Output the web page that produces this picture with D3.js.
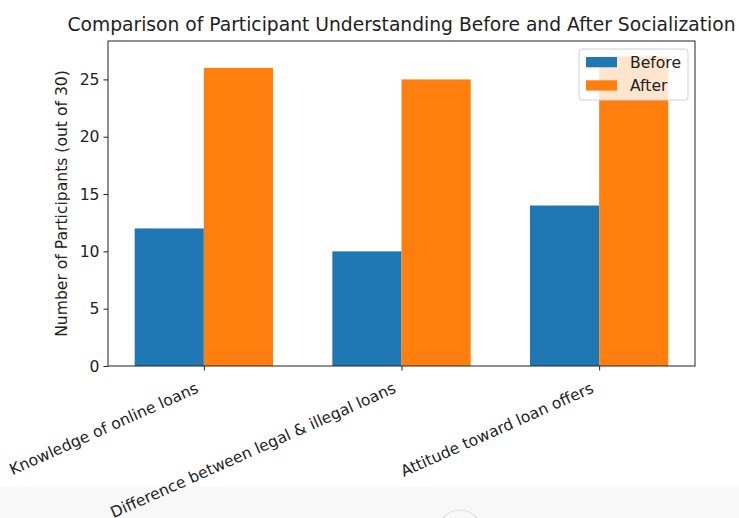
<!DOCTYPE html>
<html><head><meta charset="utf-8">
<script src="https://cdn.jsdelivr.net/npm/d3@7"></script>
<style>
html,body{margin:0;padding:0;background:#fff;}
svg{display:block;font-family:"DejaVu Sans",sans-serif;}
</style></head>
<body><svg id="c" width="739" height="518"></svg>
<script>
const categories = ["Knowledge of online loans", "Difference between legal & illegal loans", "Attitude toward loan offers"];
const beforeValues = [12, 10, 14];
const afterValues = [26, 25, 27];
const yTicks = [0, 5, 10, 15, 20, 25];
const seriesNames = ["Before", "After"];
const seriesColors = ["#1f77b4", "#ff7f0e"];

const svg = d3.select("#c");
const L = 108, R = 695, T = 41, B = 366;
const barW = 0.35;
const fs = 15.6;
const x = d3.scaleLinear().domain([-0.485, 2.485]).range([L, R]);
const y = d3.scaleLinear().domain([0, 28.35]).range([B, T]);

// page footer band
svg.append("rect").attr("x",0).attr("y",487).attr("width",739).attr("height",31).attr("fill","#f8f8f8");
svg.append("circle").attr("cx",460).attr("cy",532).attr("r",22).attr("fill","none").attr("stroke","#dcdcdc").attr("stroke-width",1.2);

const series = [beforeValues, afterValues];
series.forEach((vals, si) => {
  svg.append("g").selectAll("rect").data(vals).join("rect")
    .attr("x", (d,i) => x(i + (si === 0 ? -barW : 0)))
    .attr("width", x(barW) - x(0))
    .attr("y", d => y(d))
    .attr("height", d => y(0) - y(d))
    .attr("fill", seriesColors[si]);
});

// axes
const yAxis = d3.axisLeft(y).tickValues(yTicks).tickSize(4.5).tickPadding(4);
const gy = svg.append("g").attr("transform", `translate(${L},0)`).call(yAxis);
gy.select(".domain").remove();
gy.selectAll("text").attr("font-size", fs).attr("fill", "#222").attr("font-family", "DejaVu Sans");
gy.selectAll("line").attr("stroke", "#222");

const xAxis = d3.axisBottom(x).tickValues([0,1,2]).tickFormat(i => categories[i]).tickSize(4.5);
const gx = svg.append("g").attr("transform", `translate(0,${B})`).call(xAxis);
gx.select(".domain").remove();
gx.selectAll("line").attr("stroke", "#222");
gx.selectAll("text")
  .attr("font-size", fs).attr("fill", "#222").attr("font-family", "DejaVu Sans")
  .attr("text-anchor", "end").attr("dy", null).attr("y", null)
  .attr("transform", "translate(-5,26) rotate(-24)");

// spines
svg.append("rect").attr("x", L).attr("y", T).attr("width", R - L).attr("height", B - T)
  .attr("fill", "none").attr("stroke", "#222").attr("stroke-width", 1);

// title
svg.append("text").attr("x", (L + R) / 2).attr("y", 31).attr("text-anchor", "middle")
  .attr("font-size", 18.7).attr("fill", "#222")
  .text("Comparison of Participant Understanding Before and After Socialization");

// y label
svg.append("text").attr("transform", `translate(67,${(T + B) / 2}) rotate(-90)`)
  .attr("text-anchor", "middle").attr("font-size", fs).attr("fill", "#222")
  .text("Number of Participants (out of 30)");

// legend
const lg = svg.append("g");
lg.append("rect").attr("x", 579).attr("y", 49).attr("width", 109).attr("height", 51).attr("rx", 3)
  .attr("fill", "#fff").attr("fill-opacity", 0.8).attr("stroke", "#d0d0d0").attr("stroke-width", 1);
seriesNames.forEach((n, i) => {
  lg.append("rect").attr("x", 586).attr("y", 57 + i * 23.3).attr("width", 31).attr("height", 10.3).attr("fill", seriesColors[i]);
  lg.append("text").attr("x", 630).attr("y", 67.8 + i * 23.3).attr("font-size", fs).attr("fill", "#222").text(n);
});
</script></body></html>
